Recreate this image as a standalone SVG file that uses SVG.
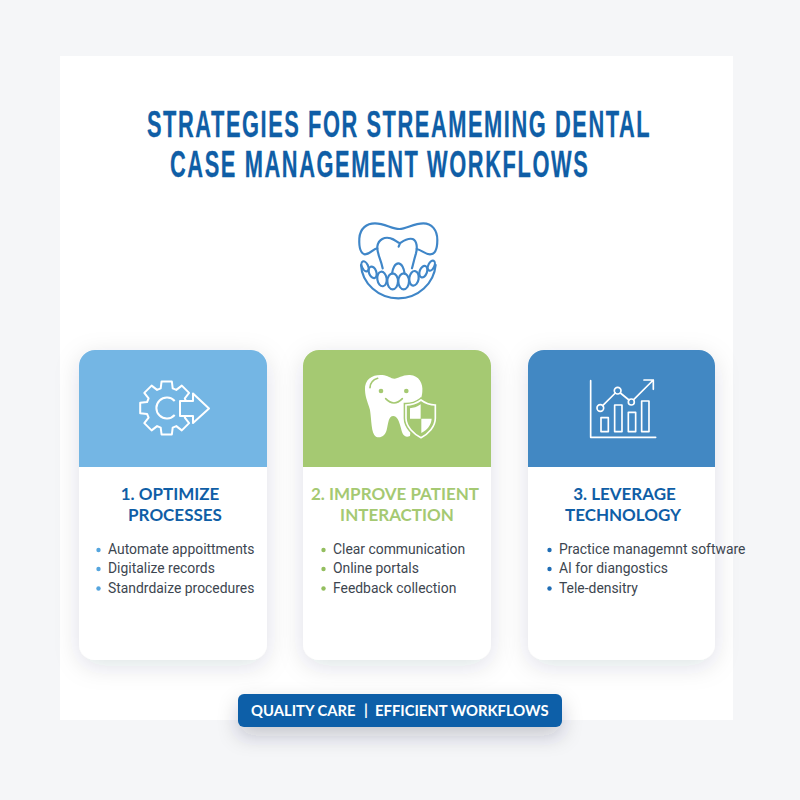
<svg xmlns="http://www.w3.org/2000/svg" width="800" height="800" viewBox="0 0 800 800">
<defs>
<filter id="soft" x="-30%" y="-30%" width="160%" height="160%"><feDropShadow dx="0" dy="6" stdDeviation="12" flood-color="#1c2c40" flood-opacity="0.13"/></filter>
<filter id="soft2" x="-20%" y="-80%" width="140%" height="320%"><feDropShadow dx="0" dy="9" stdDeviation="10" flood-color="#1c2c40" flood-opacity="0.22"/></filter>
</defs>
<style>
.title{font-family:"Liberation Sans",Arial,sans-serif;font-weight:700;font-size:37px;fill:#0f5ea6;stroke:#0f5ea6;stroke-width:0.300}
.h{font-family:"Lato","Liberation Sans",sans-serif;font-weight:700;font-size:17px;text-anchor:middle}
.b{font-family:"Roboto","Liberation Sans",sans-serif;font-size:13.900px;fill:#3d4650}
.f{font-family:"Lato","Liberation Sans",sans-serif;font-weight:700;font-size:14.800px;fill:#fff}
.card{fill:#fff;filter:url(#soft)}
.ic{fill:none;stroke:#3f86c8;stroke-width:6.500;stroke-linejoin:round;stroke-linecap:round}
.blue{fill:#0f5ea6}.green{fill:#a5c972}
</style>
<rect width="800" height="800" fill="#f5f6f8"/>
<rect x="60" y="56" width="673" height="664" fill="#fff"/>
<g id="title">
<text class="title" transform="translate(147,137) scale(0.59,1)" textLength="852" lengthAdjust="spacing">STRATEGIES FOR STREAMEMING DENTAL</text>
<text class="title" transform="translate(170,177) scale(0.59,1)" textLength="708" lengthAdjust="spacing">CASE MANAGEMENT WORKFLOWS</text>
</g>
<g id="dental-icon" transform="translate(350,215) scale(0.3333)">
<path class="ic" d="M82 100C70 100 62 118 45 118C30 115 27 90 28 70C30 40 50 25 75 25C105 25 125 42 148 42C170 42 190 25 220 25C245 25 262 45 262 75C262 100 255 118 240 118C225 118 215 105 200 102"/>
<path class="ic" d="M98 160C92 130 80 115 82 95C85 72 105 65 122 70C135 73 140 82 150 85C160 78 172 68 188 72C202 78 202 100 198 115C192 135 190 145 186 160M150 85L146 95"/>
<path class="ic" d="M33 150C36 205 85 250 145 250C205 250 252 205 257 150"/>
<ellipse class="ic" cx="45" cy="154" rx="9" ry="16" transform="rotate(-25 45 154)"/>
<ellipse class="ic" cx="68" cy="172" rx="11" ry="18" transform="rotate(-20 68 172)"/>
<ellipse class="ic" cx="96" cy="192" rx="14" ry="22" transform="rotate(-8 96 192)"/>
<ellipse class="ic" cx="128" cy="199" rx="16" ry="24"/>
<ellipse class="ic" cx="161" cy="199" rx="16" ry="24"/>
<ellipse class="ic" cx="192" cy="190" rx="14" ry="22" transform="rotate(8 192 190)"/>
<ellipse class="ic" cx="220" cy="170" rx="11" ry="18" transform="rotate(20 220 170)"/>
<ellipse class="ic" cx="244" cy="152" rx="9" ry="16" transform="rotate(25 244 152)"/>
<path class="ic" d="M126 176C128 160 135 145 145 145C155 145 162 160 164 176"/>
</g>
<g id="card-1">
<rect class="card" x="79" y="350" width="188" height="310" rx="16"/>
<path d="M79 467V366a16 16 0 0 1 16-16H251a16 16 0 0 1 16 16V467Z" fill="#74b6e4"/>
<g transform="translate(166.700,408)" fill="none" stroke="#fff" stroke-width="2" stroke-linejoin="round">
<path d="M-6-19.600L-5.150-26.500L5.150-26.500L6-19.600L9.600-18.100L15.100-22.400L22.400-15.100L18.100-9.600L19.600-6L26.500-5.150L26.500 5.150L19.600 6L18.100 9.600L22.400 15.100L15.100 22.400L9.600 18.100L6 19.600L5.150 26.500L-5.150 26.500L-6 19.600L-9.600 18.100L-15.100 22.400L-22.400 15.100L-18.100 9.600L-19.600 6L-26.500 5.150L-26.500-5.150L-19.600-6L-18.100-9.600L-22.400-15.100L-15.100-22.400L-9.600-18.100Z"/>
<path d="M8-7A10.500 10.500 0 1 0 8 7"/>
</g>
<path d="M180 401H193V393.500L209 408.500L193 423V416H180Z" fill="#74b6e4" stroke="#fff" stroke-width="2" stroke-linejoin="round"/>
<text class="h blue" x="170" y="500">1. OPTIMIZE</text>
<text class="h blue" x="175" y="521">PROCESSES</text>
<circle cx="98.500" cy="550" r="2.200" fill="#55a5de"/><circle cx="98.500" cy="569" r="2.200" fill="#55a5de"/><circle cx="98.500" cy="588.500" r="2.200" fill="#55a5de"/>
<text class="b" x="108" y="554">Automate appoittments</text>
<text class="b" x="108" y="573">Digitalize records</text>
<text class="b" x="108" y="593">Standrdaize procedures</text>
</g>
<g id="card-2">
<rect class="card" x="303" y="350" width="188" height="310" rx="16"/>
<path d="M303 467V366a16 16 0 0 1 16-16H475a16 16 0 0 1 16 16V467Z" fill="#a5c972"/>
<g transform="translate(295,340) scale(0.3333)">
<path fill="#fff" d="M210 150C208 115 235 103 262 105C278 106 288 116 298 116C310 116 322 104 345 105C372 107 385 130 382 155C380 190 355 200 345 288C330 295 322 285 318 265C312 240 305 228 295 228C280 228 280 250 275 270C270 290 255 295 243 290C228 280 230 240 225 210C220 190 211 175 210 150Z"/>
<circle cx="258" cy="153" r="7" fill="#a5c972"/><circle cx="334" cy="153" r="7" fill="#a5c972"/>
<path d="M272 176Q297 202 322 176M225 143Q226 122 248 115" fill="none" stroke="#a5c972" stroke-width="5" stroke-linecap="round"/>
<path d="M378 180C362 192 347 195 333 195V235C333 260 356 282 378 293C400 282 421 260 421 235V195C407 195 394 192 378 180Z" fill="#a5c972" stroke="#a5c972" stroke-width="14"/>
<path d="M378 180C362 192 347 195 333 195V235C333 260 356 282 378 293C400 282 421 260 421 235V195C407 195 394 192 378 180Z" fill="#a5c972" stroke="#fff" stroke-width="5"/>
<path d="M377 193C366 201 355 204 345 205V236H377ZM379 236V279C396 270 409 255 410 236Z" fill="#fff"/>
</g>
<text class="h green" x="395" y="500">2. IMPROVE PATIENT</text>
<text class="h green" x="397" y="521">INTERACTION</text>
<circle cx="323.500" cy="550" r="2.200" fill="#93be5f"/><circle cx="323.500" cy="569" r="2.200" fill="#93be5f"/><circle cx="323.500" cy="588.500" r="2.200" fill="#93be5f"/>
<text class="b" x="333" y="554">Clear communication</text>
<text class="b" x="333" y="573">Online portals</text>
<text class="b" x="333" y="593">Feedback collection</text>
</g>
<g id="card-3">
<rect class="card" x="528" y="350" width="187" height="310" rx="16"/>
<path d="M528 467V366a16 16 0 0 1 16-16H699a16 16 0 0 1 16 16V467Z" fill="#4288c3"/>
<g transform="translate(520,340) scale(0.3333)" fill="none" stroke="#fff" stroke-width="5" stroke-linecap="round" stroke-linejoin="round">
<path d="M212 122V292H407"/>
<rect x="243" y="233" width="22" height="42"/><rect x="284" y="195" width="22" height="80"/><rect x="325" y="217" width="22" height="58"/><rect x="365" y="183" width="22" height="92"/>
<circle cx="241" cy="204" r="10"/><circle cx="293" cy="152" r="10"/><circle cx="334" cy="186" r="9"/>
<path d="M248 197L286 159M301 159L327 180M341 179L400 120M372 120H400V148"/>
</g>
<text class="h blue" x="624.500" y="500">3. LEVERAGE</text>
<text class="h blue" x="623" y="521">TECHNOLOGY</text>
<circle cx="549.500" cy="550" r="2.200" fill="#1f6db5"/><circle cx="549.500" cy="569" r="2.200" fill="#1f6db5"/><circle cx="549.500" cy="588.500" r="2.200" fill="#1f6db5"/>
<text class="b" x="559" y="554">Practice managemnt software</text>
<text class="b" x="559" y="573">AI for diangostics</text>
<text class="b" x="559" y="593">Tele-densitry</text>
</g>
<g id="footer">
<rect x="238" y="694" width="324" height="33" rx="6" fill="#0a5ea8" filter="url(#soft2)"/>
<text class="f" x="251" y="716">QUALITY CARE</text>
<text class="f" x="364" y="715">|</text>
<text class="f" x="375" y="716">EFFICIENT WORKFLOWS</text>
</g>
</svg>
